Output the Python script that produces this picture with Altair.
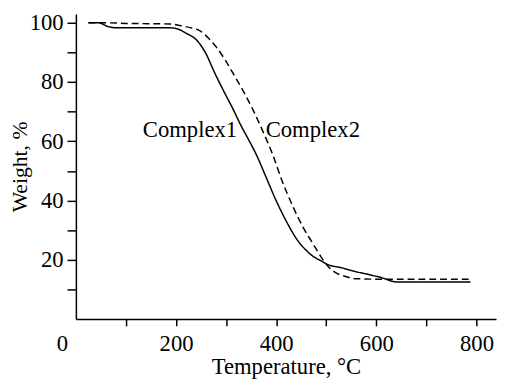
import altair as alt
import pandas as pd

# Complex1 (solid)
t1 = [25, 45, 65, 85, 150, 189, 202, 220, 242, 260, 275, 295, 314, 330, 345, 360, 380, 399, 424, 440, 458, 475, 491, 501, 530, 556, 585, 609, 641, 700, 788]
w1 = [100, 100, 98.7, 98.3, 98.3, 98.3, 98.0, 96.5, 94.0, 89.5, 83.9, 77.0, 70.8, 65.2, 60.5, 55.6, 47.8, 40.3, 31.8, 27.2, 23.5, 21.0, 19.5, 18.5, 17.3, 16.1, 15.0, 14.0, 12.5, 12.5, 12.5]
# Complex2 (dashed)
t2 = [25, 60, 100, 150, 189, 210, 230, 248, 265, 281, 298, 314, 334, 354, 373, 393, 412, 432, 452, 472, 493, 505, 517, 537, 560, 620, 700, 788]
w2 = [100, 100, 99.8, 99.7, 99.6, 99.0, 98.3, 97.3, 94.8, 91.7, 87.5, 82.9, 77.0, 70.5, 63.5, 55.5, 46.5, 38.5, 31.5, 25.8, 20.1, 17.5, 15.8, 14.4, 13.6, 13.4, 13.4, 13.4]

lab_text = ["Complex1", "Complex2"]
lab_x = [322, 379]
lab_y = [63.8, 63.8]
lab_align = ["right", "left"]

xticks = [0, 100, 200, 300, 400, 500, 600, 700, 800]
yticks = [10, 20, 30, 40, 50, 60, 70, 80, 90, 100]

df = pd.concat([
    pd.DataFrame({"t": t1, "w": w1, "s": "Complex1"}),
    pd.DataFrame({"t": t2, "w": w2, "s": "Complex2"}),
])
labels = pd.DataFrame({"text": lab_text, "x": lab_x, "y": lab_y, "align": lab_align})

FONT = "Liberation Serif"

xs = alt.Scale(domain=[0, 839], nice=False, zero=False)
ys = alt.Scale(domain=[0, 103], nice=False, zero=False)

xaxis = alt.Axis(
    values=xticks,
    labelExpr="datum.value % 200 == 0 ? datum.label : ''",
    labelOverlap=False,
    format="d", grid=False, tickSize=7, tickColor="black", domainColor="black",
    domainWidth=1.5, tickWidth=1.5,
    tickOpacity={"condition": {"test": "datum.value == 0", "value": 0}, "value": 1},
    labelOffset={"condition": {"test": "datum.value == 0", "value": -20}, "value": 0},
    labelFont=FONT, labelFontSize=23, labelColor="black", labelPadding=7,
    titleFont=FONT, titleFontSize=23, titleFontWeight="normal", titleColor="black",
    titlePadding=0, title="Temperature, °C",
)
yaxis = alt.Axis(
    values=yticks,
    labelExpr="datum.value % 20 == 0 ? datum.label : ''",
    labelOverlap=False,
    format="d", grid=False, tickSize=9, tickColor="black", domainColor="black",
    domainWidth=1.5, tickWidth=1.5,
    labelFont=FONT, labelFontSize=23, labelColor="black", labelPadding=4,
    titleFont=FONT, titleFontSize=22, titleFontWeight="normal", titleColor="black",
    titlePadding=-2, title="Weight, %",
)

lines = alt.Chart(df).mark_line(color="black", strokeWidth=1.5, interpolate="monotone").encode(
    x=alt.X("t:Q", scale=xs, axis=xaxis),
    y=alt.Y("w:Q", scale=ys, axis=yaxis),
    strokeDash=alt.StrokeDash("s:N", scale=alt.Scale(domain=["Complex1", "Complex2"], range=[[1, 0], [7, 4]]), legend=None),
    detail="s:N",
)

text1 = alt.Chart(labels[labels["align"] == "right"]).mark_text(
    align="right", baseline="middle", font=FONT, fontSize=23, color="black"
).encode(x=alt.X("x:Q", scale=xs, axis=xaxis), y=alt.Y("y:Q", scale=ys, axis=yaxis), text="text:N")
text2 = alt.Chart(labels[labels["align"] == "left"]).mark_text(
    align="left", baseline="middle", font=FONT, fontSize=23, color="black"
).encode(x=alt.X("x:Q", scale=xs, axis=xaxis), y=alt.Y("y:Q", scale=ys, axis=yaxis), text="text:N")

chart = alt.layer(lines, text1, text2).properties(
    width=427, height=310,
    autosize=alt.AutoSizeParams(type="none"),
    padding={"left": 69, "top": 3, "right": 2, "bottom": 59},
).configure_view(stroke=None)

chart.save("out.html", embed_options={"renderer": "svg", "actions": False})
